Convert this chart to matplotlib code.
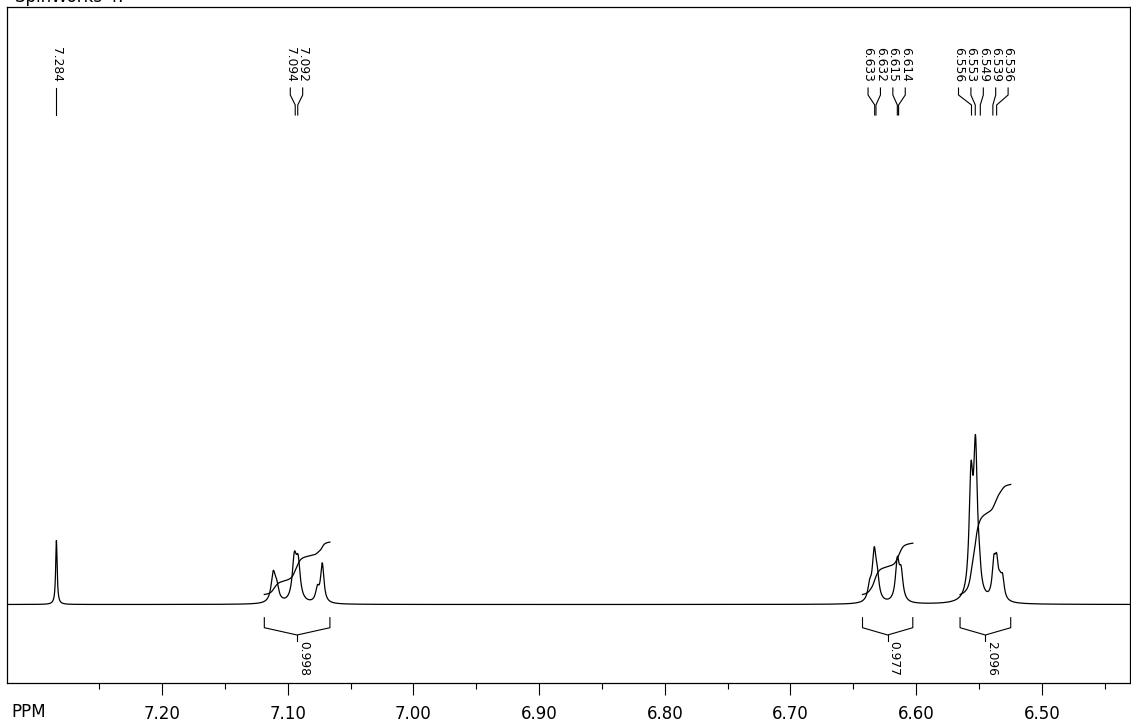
import numpy as np
import matplotlib
matplotlib.use("Agg")
import matplotlib.pyplot as plt
from matplotlib.ticker import FixedLocator, FormatStrFormatter

# peak list: position (ppm), height (px above baseline), half width (ppm)
peak_ppm = np.array([7.2840,
                     7.1115, 7.1088, 7.0947, 7.0917, 7.0764, 7.0725,
                     6.6370, 6.6334, 6.6310, 6.6150, 6.6120,
                     6.5564, 6.5528, 6.5498, 6.5382, 6.5360, 6.5334, 6.5313])
peak_height = np.array([64,
                        28, 14, 40.7, 36.4, 13, 39,
                        14, 47, 20, 39.7, 27.5,
                        113, 143, 15, 33, 32, 12, 20])
peak_hwhm = np.array([0.0007,
                      0.0020, 0.0020, 0.0020, 0.0020, 0.0016, 0.0016,
                      0.0018, 0.0018, 0.0018, 0.0018, 0.0018,
                      0.0018, 0.0018, 0.0015, 0.0016, 0.0016, 0.0016, 0.0016])

# peak picking labels
label_ppm = [7.284, 7.094, 7.092, 6.633, 6.632, 6.615, 6.614,
             6.556, 6.553, 6.549, 6.539, 6.536]

# integrals
int_start = [7.1186, 6.6427, 6.5651]
int_end = [7.0664, 6.6027, 6.5248]
int_value = [0.998, 0.977, 2.096]

major_ticks = [7.20, 7.10, 7.00, 6.90, 6.80, 6.70, 6.60, 6.50]
minor_ticks = [7.25, 7.15, 7.05, 6.95, 6.85, 6.75, 6.65, 6.55, 6.45]

x_left, x_right = 7.3233, 6.4299
PX_PER_PPM = 1257.0

ppm = np.linspace(x_left, x_right, 24000)
spec = np.zeros_like(ppm)
for p, h, w in zip(peak_ppm, peak_height, peak_hwhm):
    spec += h / (1 + ((ppm - p) / w) ** 2)

fig = plt.figure(figsize=(11.31, 7.27), dpi=100)
ax = fig.add_axes([7 / 1131, 44 / 727, 1123 / 1131, 676 / 727])
ax.plot(ppm, spec, color="black", lw=0.9)
ax.set_xlim(x_left, x_right)
ax.set_ylim(-78.5, 597.5)
ax.set_yticks([])
for s in ax.spines.values():
    s.set_linewidth(0.9)

ax.xaxis.set_major_locator(FixedLocator(major_ticks))
ax.xaxis.set_minor_locator(FixedLocator(minor_ticks))
ax.xaxis.set_major_formatter(FormatStrFormatter("%.2f"))
ax.tick_params(axis="x", which="major", direction="out", length=8.6, width=0.8,
               pad=7, labelsize=12)
ax.tick_params(axis="x", which="minor", direction="out", length=4.3, width=0.8)

# integral curves + brackets
scale = 52.5
for s, e, v in zip(int_start, int_end, int_value):
    m = (ppm <= s) & (ppm >= e)
    cum = np.cumsum(spec[m])
    ax.plot(ppm[m], cum / cum[-1] * v * scale + 10, color="black", lw=0.9)
    mid = (s + e) / 2
    ax.plot([s, s, mid, e, e], [-13.2, -23.2, -30.5, -23.2, -13.2], color="black", lw=0.8)
    ax.plot([mid, mid], [-30.5, -36.5], color="black", lw=0.8)
    ax.text(mid, -36.5, f"{v:.3f}", rotation=270, ha="left", va="top", fontsize=8.8)

# spread peak labels so they don't overlap
d = 12.4 / PX_PER_PPM
groups = []
for p in sorted(label_ppm, reverse=True):
    groups.append([p])
    while len(groups) > 1:
        a, b = groups[-2], groups[-1]
        ca, cb = np.mean(a), np.mean(b)
        last_a = ca - d * (len(a) - 1) / 2
        first_b = cb + d * (len(b) - 1) / 2
        if last_a - first_b < d:
            groups[-2:] = [a + b]
        else:
            break
for g in groups:
    c = np.mean(g)
    n = len(g)
    for k, p in enumerate(g):
        lx = c + d * ((n - 1) / 2 - k)
        ax.plot([lx, lx, p, p], [516.5, 509.5, 499.5, 489.5], color="black", lw=0.8)
        ax.text(lx, 557.5, f"{p:.3f}", rotation=270, ha="center", va="top", fontsize=8.8)

fig.text(11 / 1131, 1 - 711.7 / 727, "PPM", va="center", ha="left", fontsize=12)
fig.text(15 / 1131, 1 - 2 / 727, "SpinWorks 4:", va="baseline", ha="left", fontsize=12)

fig.savefig("out.png", dpi=100)
